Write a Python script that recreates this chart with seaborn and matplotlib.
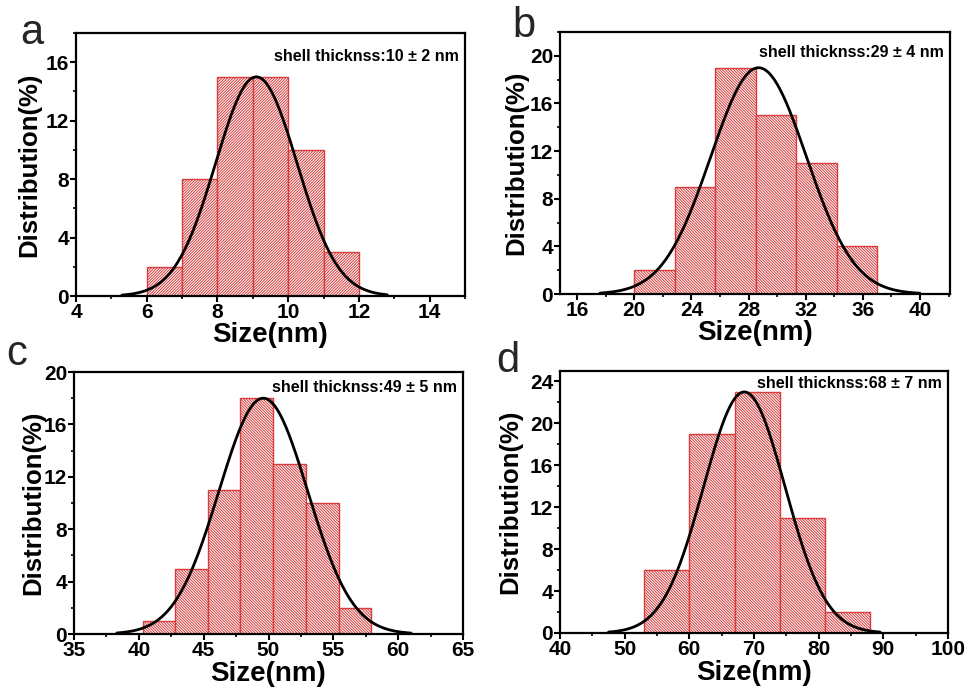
import numpy as np
import pandas as pd
import seaborn as sns
import matplotlib.pyplot as plt
from matplotlib.ticker import MultipleLocator

# -------------------------------
# DATA
# -------------------------------

panel_letters = ["a", "b", "c", "d"]
shell_labels = ["shell thicknss:10 ± 2 nm", "shell thicknss:29 ± 4 nm",
                "shell thicknss:49 ± 5 nm", "shell thicknss:68 ± 7 nm"]

# histogram bin edges (nm) and heights (%)
edges_a = [6, 7, 8, 9, 10, 11, 12]
heights_a = [2, 8, 15, 15, 10, 3]
edges_b = [20.0, 22.83, 25.67, 28.5, 31.33, 34.17, 37.0]
heights_b = [2, 9, 19, 15, 11, 4]
edges_c = [40.3, 42.8, 45.3, 47.8, 50.35, 52.9, 55.4, 57.9]
heights_c = [1, 5, 11, 18, 13, 10, 2]
edges_d = [53, 60, 67, 74, 81, 88]
heights_d = [6, 19, 23, 11, 2]

# gaussian fit: amplitude, centre, sigma, drawn range
fit_a = (15.0, 9.1, 1.15, 5.3, 12.8)
fit_b = (19.0, 28.7, 3.35, 17.6, 40.0)
fit_c = (18.0, 49.6, 3.42, 38.3, 61.0)
fit_d = (23.0, 68.5, 6.3, 47.5, 89.5)

xlims = [(4, 15), (14.8, 42.1), (35, 65), (40, 100)]
ylims = [(0, 18), (0, 22), (0, 20), (0, 25)]
x_major = [2, 4, 5, 10]
hatches = ["/" * 12, "\\" * 12, "\\" * 12, "\\" * 12]

# -------------------------------
# STYLE
# -------------------------------

sns.set_style("ticks")
plt.rcParams["font.family"] = ["Liberation Sans", "DejaVu Sans"]
red = "#d83c3c"
plt.rcParams["hatch.color"] = red
plt.rcParams["hatch.linewidth"] = 0.7

fig = plt.figure(figsize=(9.66, 6.89), dpi=100)
W, H = 966, 689

# axes boxes in pixels: left, top, right, bottom
boxes = [(76, 33, 465, 296), (560, 32, 950, 294),
         (74, 372, 463, 634), (560, 371, 948, 633)]
letter_pos = [(20, 44), (512, 37), (6, 365), (496, 372)]
label_y_pos = [0.912, 0.923, 0.94, 0.954]
xlabel_pad = [0, 0, 1, 1]
ylabel_pad = [3, 1, -1, 5]

panels = [(edges_a, heights_a, fit_a), (edges_b, heights_b, fit_b),
          (edges_c, heights_c, fit_c), (edges_d, heights_d, fit_d)]

for i, (edges, heights, fit) in enumerate(panels):
    l, t, r, b = boxes[i]
    ax = fig.add_axes([l / W, 1 - b / H, (r - l) / W, (b - t) / H])

    centers = [(edges[k] + edges[k + 1]) / 2 for k in range(len(heights))]
    df = pd.DataFrame({"size": centers, "pct": heights})
    sns.histplot(data=df, x="size", weights="pct", bins=edges, ax=ax,
                 stat="count", alpha=1, color="white", edgecolor=red, linewidth=1.0)
    for p in ax.patches:
        p.set_facecolor("white")
        p.set_edgecolor(red)
        p.set_hatch(hatches[i])

    amp, mu, sig, x0, x1 = fit
    xs = np.linspace(x0, x1, 300)
    curve = pd.DataFrame({"x": xs, "y": amp * np.exp(-(xs - mu) ** 2 / (2 * sig ** 2))})
    sns.lineplot(data=curve, x="x", y="y", ax=ax, color="black", linewidth=2)

    ax.set_xlim(*xlims[i])
    ax.set_ylim(*ylims[i])
    ax.xaxis.set_major_locator(MultipleLocator(x_major[i]))
    ax.xaxis.set_minor_locator(MultipleLocator(x_major[i] / 2))
    ax.yaxis.set_major_locator(MultipleLocator(4))
    ax.yaxis.set_minor_locator(MultipleLocator(2))
    ax.tick_params(which="major", direction="out", length=4, width=1.5,
                   labelsize=15, pad=1, top=False, right=False,
                   color="black", labelcolor="black")
    ax.tick_params(which="minor", direction="out", length=2.5, width=1.2,
                   top=False, right=False, color="black")
    for lab in ax.get_xticklabels() + ax.get_yticklabels():
        lab.set_fontweight("bold")
    for s in ax.spines.values():
        s.set_visible(True)
        s.set_linewidth(1.6)
        s.set_color("black")

    ax.set_xlabel("Size(nm)", fontsize=20, fontweight="bold", labelpad=xlabel_pad[i], color="black")
    ax.set_ylabel("Distribution(%)", fontsize=18.5, fontweight="bold", labelpad=ylabel_pad[i], color="black")
    ax.text(0.985, label_y_pos[i], shell_labels[i], transform=ax.transAxes,
            ha="right", va="center", fontsize=11.5, fontweight="bold", color="black")

    lx, ly = letter_pos[i]
    fig.text(lx / W, 1 - ly / H, panel_letters[i], fontsize=30, va="baseline", ha="left")

plt.savefig("out.png", dpi=100)
